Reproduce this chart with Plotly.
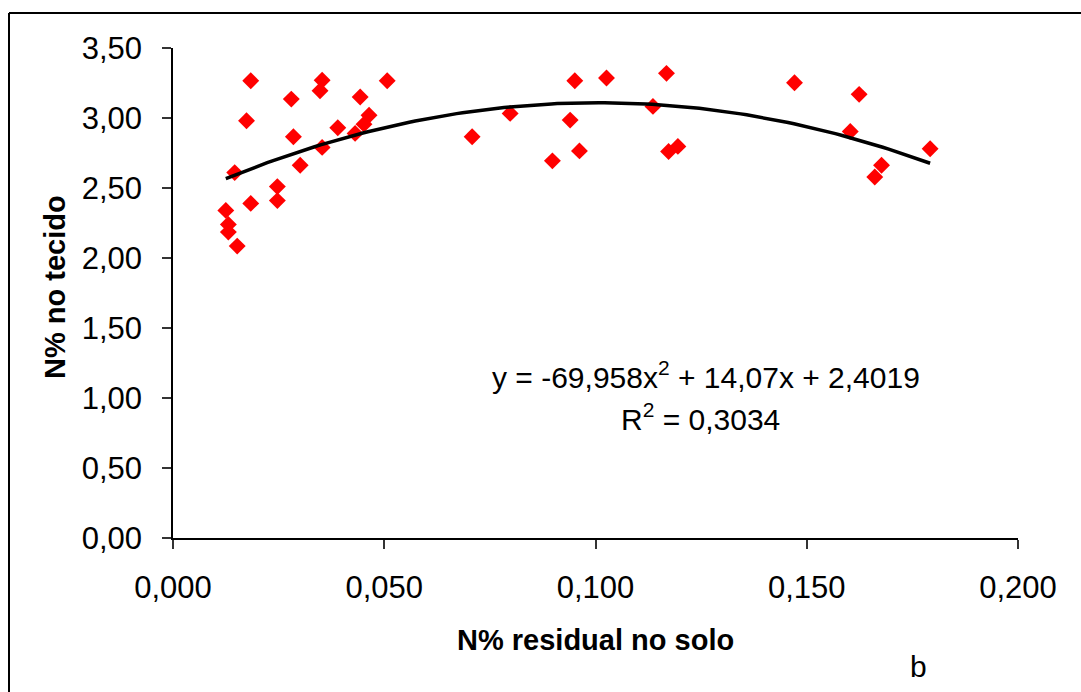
import numpy as np
import plotly.graph_objects as go

# Observed data (N% residual in soil vs N% in tissue)
x_solo = [0.0184, 0.0174, 0.0146, 0.0125, 0.0131, 0.0131, 0.0152, 0.0184, 0.0247, 0.0247,
          0.0280, 0.0285, 0.0301, 0.0353, 0.0348, 0.0390, 0.0353, 0.0443, 0.0464, 0.0452,
          0.0431, 0.0507, 0.0708, 0.0798, 0.0898, 0.0951, 0.0940, 0.0962, 0.1026, 0.1136,
          0.1168, 0.1173, 0.1195, 0.1471, 0.1624, 0.1603, 0.1677, 0.1661, 0.1792]
y_tecido = [3.266, 2.98, 2.61, 2.34, 2.24, 2.185, 2.085, 2.39, 2.51, 2.41,
            3.135, 2.866, 2.663, 3.27, 3.195, 2.93, 2.79, 3.15, 3.02, 2.956,
            2.89, 3.266, 2.866, 3.033, 2.694, 3.266, 2.985, 2.765, 3.286, 3.083,
            3.319, 2.761, 2.797, 3.252, 3.169, 2.904, 2.663, 2.579, 2.78]

# Quadratic trendline coefficients (as printed on the chart)
coef_a = -69.958
coef_b = 14.07
coef_c = 2.4019

xt = np.linspace(min(x_solo), max(x_solo), 120)
yt = coef_a * xt**2 + coef_b * xt + coef_c

x_ticks = [0.0, 0.05, 0.10, 0.15, 0.20]
y_ticks = [0.0, 0.5, 1.0, 1.5, 2.0, 2.5, 3.0, 3.5]

FONT = "Liberation Sans, Arial, sans-serif"

fig = go.Figure()
fig.add_trace(go.Scatter(x=x_solo, y=y_tecido, mode="markers",
                         marker=dict(symbol="diamond", size=13, color="#FF0000",
                                     line=dict(width=0)),
                         showlegend=False, hoverinfo="skip"))
fig.add_trace(go.Scatter(x=xt, y=yt, mode="lines",
                         line=dict(color="black", width=3.5),
                         showlegend=False, hoverinfo="skip"))

W, H = 1081, 692
L, R, T, B = 173, 1018, 48, 538

def px(xp):
    return (xp - L) / (R - L)

def py(yp):
    return (B - yp) / (B - T)

fig.update_layout(
    width=W, height=H,
    margin=dict(l=L, r=W - R, t=T, b=H - B),
    paper_bgcolor="white", plot_bgcolor="white",
    separators=",.",
    font=dict(family=FONT, size=30, color="black"),
    xaxis=dict(range=[0, 0.2], tickvals=x_ticks, tickformat=".3f",
               showgrid=False, zeroline=False, showline=True, linecolor="black",
               linewidth=1.5, ticks="outside", ticklen=9, tickcolor="#333",
               tickwidth=1.5, tickfont=dict(size=31), ticklabelstandoff=12),
    yaxis=dict(range=[0, 3.5], tickvals=y_ticks, tickformat=".2f",
               showgrid=False, zeroline=False, showline=True, linecolor="black",
               linewidth=1.5, ticks="outside", ticklen=9, tickcolor="#333",
               tickwidth=1.5, tickfont=dict(size=31), ticklabelstandoff=14),
    shapes=[
        dict(type="line", xref="paper", yref="paper",
             x0=px(9), x1=px(1100), y0=py(13), y1=py(13),
             line=dict(color="black", width=2), layer="below"),
        dict(type="line", xref="paper", yref="paper",
             x0=px(9), x1=px(9), y0=py(13), y1=py(720),
             line=dict(color="black", width=2), layer="below"),
    ],
    annotations=[
        dict(text="<b>N% residual no solo</b>", xref="paper", yref="paper",
             x=0.5, y=py(640), showarrow=False,
             font=dict(size=29), xanchor="center", yanchor="middle"),
        dict(text="<b>N% no tecido</b>", xref="paper", yref="paper",
             x=px(55), y=py(287), showarrow=False,
             textangle=-90, font=dict(size=29), xanchor="center", yanchor="middle"),
        dict(text="y = -69,958x<sup>2</sup> + 14,07x + 2,4019", xref="paper", yref="paper",
             x=px(706), y=py(375), showarrow=False,
             font=dict(size=30), xanchor="center", yanchor="middle"),
        dict(text="R<sup>2</sup> = 0,3034", xref="paper", yref="paper",
             x=px(700), y=py(417), showarrow=False,
             font=dict(size=30), xanchor="center", yanchor="middle"),
        dict(text="b", xref="paper", yref="paper",
             x=px(918), y=py(666), showarrow=False,
             font=dict(size=30), xanchor="center", yanchor="middle"),
    ],
)

fig.write_html("out.html")
